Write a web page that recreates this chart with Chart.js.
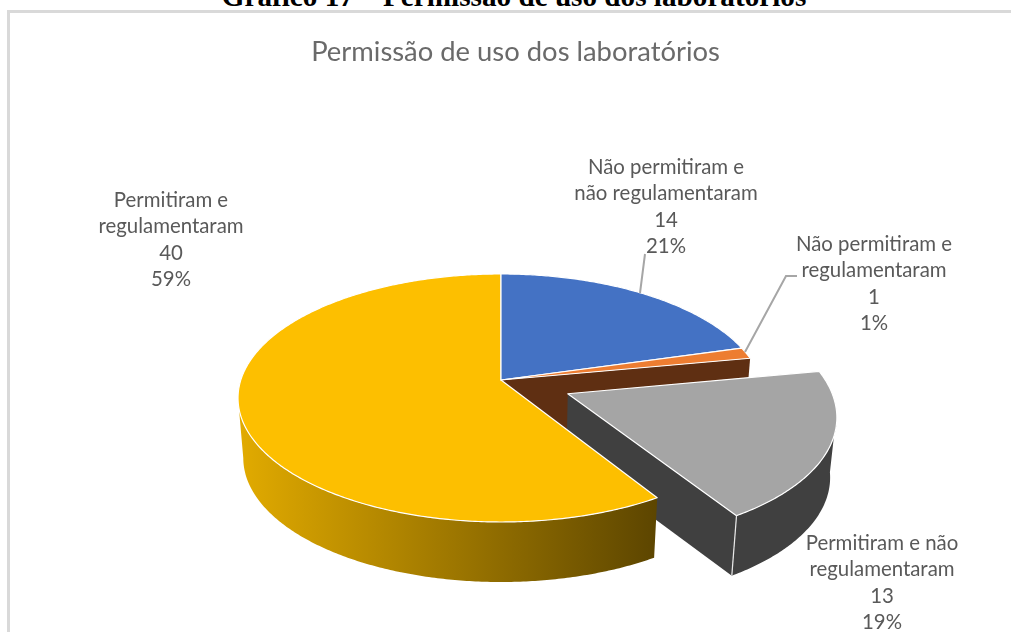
<!DOCTYPE html>
<html>
<head>
<meta charset="utf-8">
<style>
  html, body { margin: 0; padding: 0; background: #fff; overflow: hidden; width: 1011px; height: 632px; }
  #caption { position: absolute; left: 0; width: 1028px; top: -19px; text-align: center; line-height: 30px;
    font-family: "Liberation Serif", serif; font-weight: bold; font-size: 29.2px; color: #000; white-space: nowrap; }
  #frame { position: absolute; left: 7px; top: 10px; width: 1100px; height: 700px; border: 3px solid #d9d9d9; box-sizing: border-box; }
  canvas { position: absolute; left: 0; top: 0; }
</style>
<script src="https://cdn.jsdelivr.net/npm/chart.js@4/dist/chart.umd.min.js"></script>
</head>
<body>
<div id="caption">Gráfico 17 – Permissão de uso dos laboratórios</div>
<div id="frame"></div>
<canvas id="pie" width="1031" height="632"></canvas>
<script>
const categories = [
  'Não permitiram e não regulamentaram',
  'Não permitiram e regulamentaram',
  'Permitiram e não regulamentaram',
  'Permitiram e regulamentaram'
];
const values = [14, 1, 13, 40];
const percents = ['21%', '1%', '19%', '59%'];
const labelLines = [
  ['Não permitiram e', 'não regulamentaram'],
  ['Não permitiram e', 'regulamentaram'],
  ['Permitiram e não', 'regulamentaram'],
  ['Permitiram e', 'regulamentaram']
];
const topColors = ['#4472C4', '#ED7D31', '#A5A5A5', '#FDBF00'];
const explode = [0, 0, 69, 0];

// perspective of the tilted disc
const CX = 501, CY = 380, RX = 260.2, RY = 121.4, TILT = 0.145;
const DEPTH = 60, BOTTOM_SHRINK = 0.98;

const LABEL_X = [666, 874, 882, 171];
const LABEL_Y = [167.5, 244.5, 543.5, 200.5];
const LINE_H = 26.3;

function project(u, v, bottom) {
  const w = 1 - TILT * v;
  if (bottom) return [CX + RX * BOTTOM_SHRINK * u / w, CY + DEPTH + RY * v / w];
  return [CX + RX * u / w, CY + RY * v / w];
}

function shiftOf(el) {
  const mid = (el.startAngle + el.endAngle) / 2;
  const d = (el.options.offset || 0) / el.outerRadius;
  return [Math.cos(mid) * d, Math.sin(mid) * d];
}

function rim(a0, a1, shift, bottom) {
  const pts = [];
  const n = Math.max(2, Math.ceil(Math.abs(a1 - a0) / 0.01));
  for (let i = 0; i <= n; i++) {
    const a = a0 + (a1 - a0) * i / n;
    pts.push(project(Math.cos(a) + shift[0], Math.sin(a) + shift[1], bottom));
  }
  return pts;
}

function fillPoly(ctx, pts, fill, stroke, lw) {
  ctx.beginPath();
  pts.forEach((p, i) => i ? ctx.lineTo(p[0], p[1]) : ctx.moveTo(p[0], p[1]));
  ctx.closePath();
  ctx.fillStyle = fill;
  ctx.fill();
  if (stroke) {
    ctx.strokeStyle = stroke;
    ctx.lineWidth = lw;
    ctx.lineJoin = 'round';
    ctx.stroke();
  }
}

function drawTop(ctx, el) {
  const s = shiftOf(el);
  const pts = [project(s[0], s[1], false)].concat(rim(el.startAngle, el.endAngle, s, false));
  fillPoly(ctx, pts, el.options.backgroundColor, '#ffffff', 1.2);
}

const pie3d = {
  id: 'pie3d',
  beforeDatasetDraw(chart, args) {
    const ctx = chart.ctx;
    const arcs = args.meta.data;
    const orange = arcs[1], grey = arcs[2], yellow = arcs[3];
    ctx.save();

    // cut face of the small slice, seen through the gap
    const a = orange.endAngle;
    const inner = [project(0, 0, false), project(Math.cos(a), Math.sin(a), false),
      project(Math.cos(a), Math.sin(a), true), project(0, 0, true)];
    fillPoly(ctx, inner, '#5F2F12');

    // exploded slice
    const s = shiftOf(grey);
    const apexTop = project(s[0], s[1], false), apexBottom = project(s[0], s[1], true);
    const eTop = project(Math.cos(grey.endAngle) + s[0], Math.sin(grey.endAngle) + s[1], false);
    const eBottom = project(Math.cos(grey.endAngle) + s[0], Math.sin(grey.endAngle) + s[1], true);
    fillPoly(ctx, [apexTop, eTop, eBottom, apexBottom], '#404040');
    const side = Math.asin(TILT);
    const greyWall = rim(side, grey.endAngle, s, false).concat(rim(grey.endAngle, side, s, true));
    fillPoly(ctx, greyWall, '#404040');
    drawTop(ctx, grey);
    ctx.strokeStyle = '#e8e8e8';
    ctx.lineWidth = 1.2;
    ctx.beginPath();
    ctx.moveTo(eTop[0], eTop[1]);
    ctx.lineTo(eBottom[0], eBottom[1]);
    ctx.stroke();

    // big slice wall, light to dark towards the gap
    const yEnd = Math.PI - side;
    const grad = ctx.createLinearGradient(238, 0, 658, 0);
    grad.addColorStop(0, '#E2AB00');
    grad.addColorStop(1, '#5C4500');
    const yWall = rim(yellow.startAngle, yEnd, [0, 0], false)
      .concat(rim(yEnd, yellow.startAngle, [0, 0], true));
    fillPoly(ctx, yWall, grad);

    drawTop(ctx, yellow);
    drawTop(ctx, arcs[0]);
    drawTop(ctx, orange);
    ctx.restore();
    return false;
  },
  afterDraw(chart) {
    const ctx = chart.ctx;
    ctx.save();
    // leader lines
    ctx.strokeStyle = '#A6A6A6';
    ctx.lineWidth = 2;
    ctx.beginPath();
    ctx.moveTo(640, 293); ctx.lineTo(645, 254);
    ctx.moveTo(745, 352); ctx.lineTo(786, 276); ctx.lineTo(797, 276);
    ctx.stroke();
    // data labels
    ctx.fillStyle = '#595959';
    ctx.font = '20.4px Lato';
    ctx.textAlign = 'center';
    ctx.textBaseline = 'middle';
    categories.forEach((c, i) => {
      const lines = labelLines[i].concat([String(values[i]), percents[i]]);
      lines.forEach((t, j) => ctx.fillText(t, LABEL_X[i], LABEL_Y[i] + j * LINE_H));
    });
    ctx.restore();
  }
};

new Chart(document.getElementById('pie'), {
  type: 'pie',
  data: {
    labels: categories,
    datasets: [{
      data: values,
      backgroundColor: topColors,
      borderColor: '#ffffff',
      borderWidth: 1,
      offset: explode,
      radius: 250
    }]
  },
  options: {
    responsive: false,
    animation: false,
    plugins: {
      legend: { display: false },
      tooltip: { enabled: false },
      title: {
        display: true,
        text: 'Permissão de uso dos laboratórios',
        color: '#6a6a6a',
        font: { family: 'Lato', size: 27.4, weight: 'normal' },
        padding: { top: 36, bottom: 10 }
      }
    }
  },
  plugins: [pie3d]
});
</script>
</body>
</html>
